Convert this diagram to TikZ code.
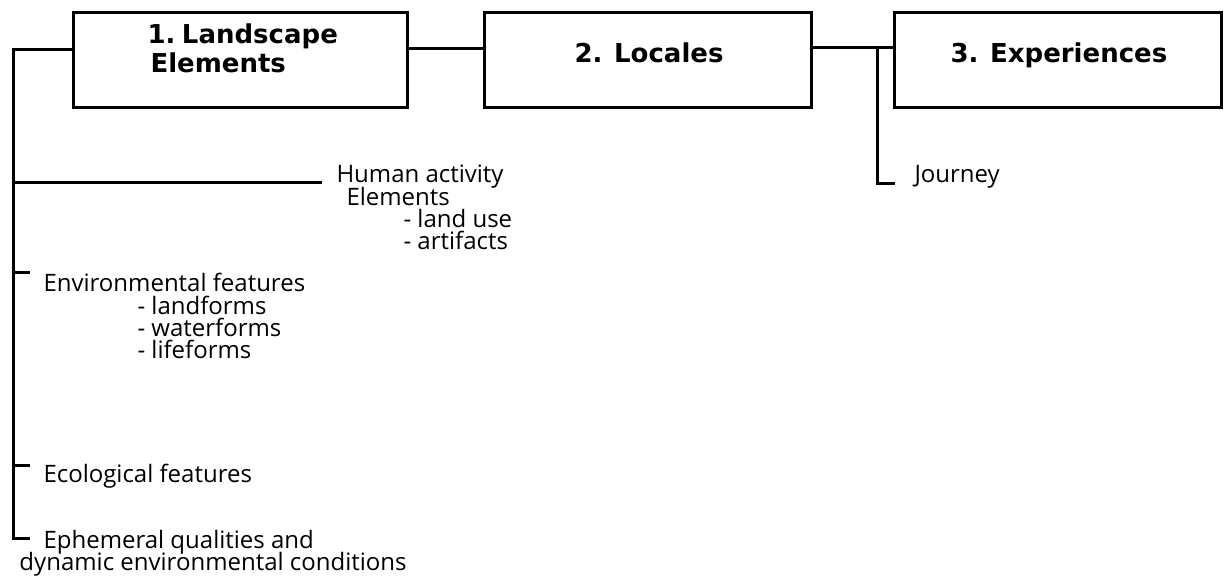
\documentclass[tikz,border=0pt]{standalone}
\usepackage{fontspec}
\setmainfont{Open Sans}
\newfontfamily\headfont{DejaVu Sans}
\begin{document}
\begin{tikzpicture}[x=1pt,y=-1pt,line width=3pt,
  box/.style={draw,line width=3pt,inner sep=0pt},
  ttl/.style={font=\headfont\bfseries\fontsize{26}{30}\selectfont,anchor=base west,inner sep=0pt},
  lbl/.style={font=\fontsize{24}{28}\selectfont,anchor=base west,inner sep=0pt}]
\useasboundingbox (0,0) rectangle (1224,584);
% boxes
\node[box,minimum width=334pt,minimum height=95pt] (b1) at (240,59.5) {};
\node[box,minimum width=327pt,minimum height=95pt] (b2) at (647.5,59.5) {};
\node[box,minimum width=327pt,minimum height=95pt] (b3) at (1057.5,59.5) {};
\node[ttl] (t1a) at (146,43) {1.\hspace{0.25em}Landscape};
\node[ttl] (t1b) at (149,72) {Elements};
\node[ttl] (t2) at (573,62) {2.\hspace{0.45em}Locales};
\node[ttl] (t3) at (949,62) {3.\hspace{0.45em}Experiences};
% labels
\node[lbl] (hum) at (335,182) {Human activity};
\node[lbl] (hel) at (345,205) {Elements};
\node[lbl] (hlu) at (402,227) {- land use};
\node[lbl] (har) at (402,249) {- artifacts};
\node[lbl] (env) at (42,291) {Environmental features};
\node[lbl] (elf) at (136,314) {- landforms};
\node[lbl] (ewf) at (136,336) {- waterforms};
\node[lbl] (elif) at (136,358) {- lifeforms};
\node[lbl] (eco) at (42,482) {Ecological features};
\node[lbl] (eph) at (42,548) {Ephemeral qualities and};
\node[lbl] (dyn) at (18,570) {dynamic environmental conditions};
\node[lbl] (jou) at (913,182) {Journey};
% connector coordinates
\coordinate (tr) at (13,49);
\coordinate (y48) at (0,48);
\coordinate (y47) at (0,47);
\coordinate (hx) at (13,182);
\coordinate (he) at (322,182);
\coordinate (ex) at (13,272);
\coordinate (ee) at (30,272);
\coordinate (cx) at (13,465);
\coordinate (ce) at (30,465);
\coordinate (px) at (13,538);
\coordinate (pe) at (30,538);
\coordinate (jt) at (877,47);
\coordinate (jc) at (877,183);
\coordinate (je) at (895,183);
% connectors
\draw (b1.west |- tr) -- (tr) -- (px) -- (pe);
\draw (hx) -- (he);
\draw (ex) -- (ee);
\draw (cx) -- (ce);
\draw (b1.east |- y48) -- (b2.west |- y48);
\draw (b2.east |- y47) -- (b3.west |- y47);
\draw (jt) -- (jc) -- (je);
\end{tikzpicture}
\end{document}
